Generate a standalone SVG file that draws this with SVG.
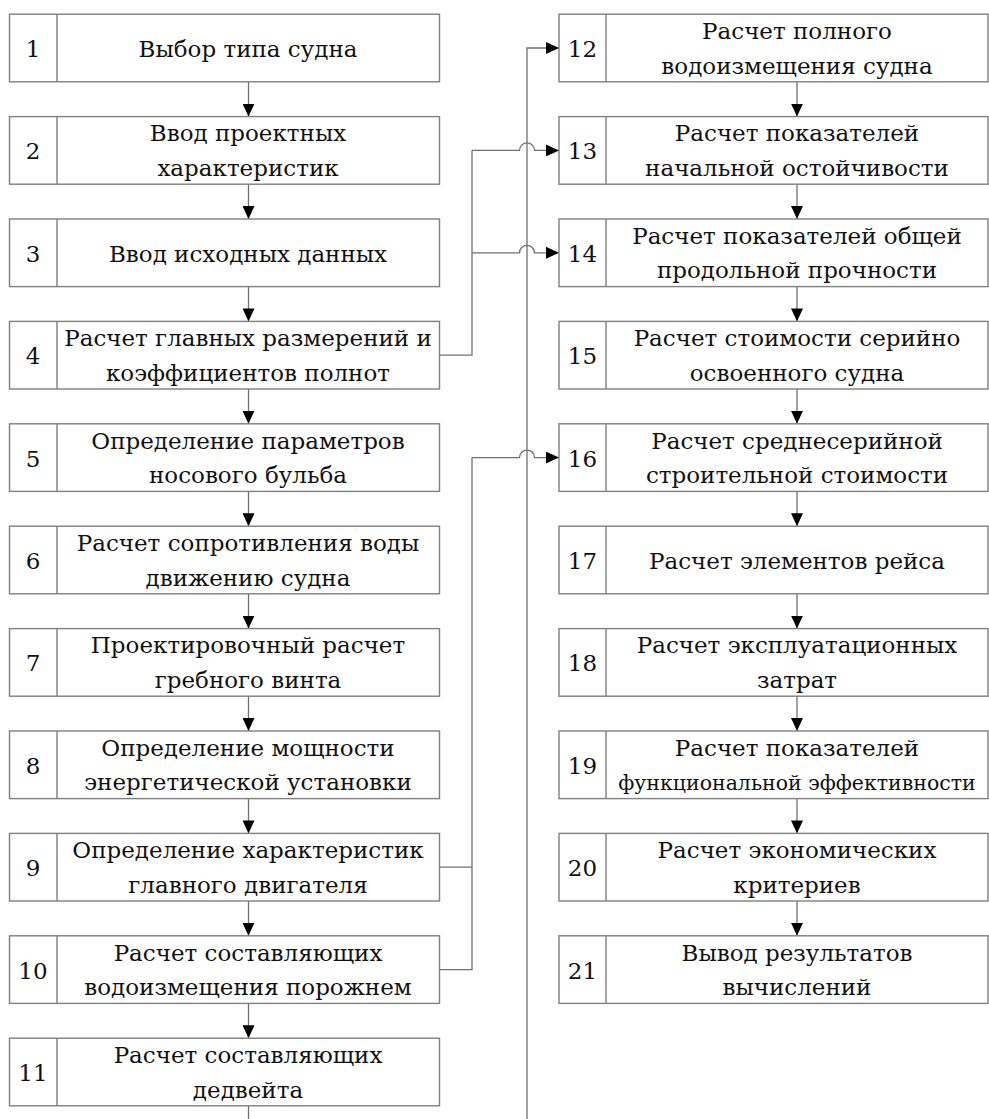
<svg xmlns="http://www.w3.org/2000/svg" width="989" height="1119" viewBox="0 0 989 1119">
<style>
.box{fill:#fff;stroke:#7f7f7f;stroke-width:1.4}
.div{stroke:#7f7f7f;stroke-width:1.4}
.c{fill:none;stroke:#707070;stroke-width:1.3}
.a{fill:none;stroke:#707070;stroke-width:1.3;marker-end:url(#ah)}
</style>
<defs>
<marker id="ah" viewBox="0 0 13 12" refX="13" refY="6" markerWidth="13" markerHeight="12" markerUnits="userSpaceOnUse" orient="auto">
<path d="M0,0 L13,6 L0,12 Z" fill="#000"/>
</marker>
</defs>
<g id="connectors">
<path class="a" d="M248.5,81.8 V116.6"/>
<path class="a" d="M248.5,184.2 V219"/>
<path class="a" d="M248.5,286.6 V321.4"/>
<path class="a" d="M248.5,389 V423.8"/>
<path class="a" d="M248.5,491.4 V526.2"/>
<path class="a" d="M248.5,593.8 V628.6"/>
<path class="a" d="M248.5,696.2 V731"/>
<path class="a" d="M248.5,798.6 V833.4"/>
<path class="a" d="M248.5,901 V935.8"/>
<path class="a" d="M248.5,1003.4 V1038.2"/>
<path class="c" d="M248.5,1105.8 V1119"/>
<path class="a" d="M797,81.8 V116.6"/>
<path class="a" d="M797,184.2 V219"/>
<path class="a" d="M797,286.6 V321.4"/>
<path class="a" d="M797,389 V423.8"/>
<path class="a" d="M797,491.4 V526.2"/>
<path class="a" d="M797,593.8 V628.6"/>
<path class="a" d="M797,696.2 V731"/>
<path class="a" d="M797,798.6 V833.4"/>
<path class="a" d="M797,901 V935.8"/>
<path class="a" d="M527,1119 V48 H559"/>
<path class="c" d="M439.5,355.2 H472 V150.4"/>
<path class="a" d="M472,150.4 H519.5 A7.5,7.5 0 0 1 534.5,150.4 H559"/>
<path class="a" d="M472,252.8 H519.5 A7.5,7.5 0 0 1 534.5,252.8 H559"/>
<path class="c" d="M439.5,867.2 H472"/>
<path class="c" d="M439.5,969.6 H472 V457.6"/>
<path class="a" d="M472,457.6 H519.5 A7.5,7.5 0 0 1 534.5,457.6 H559"/>
</g>
<g font-family="DejaVu Serif, serif" font-size="23" fill="#111" text-anchor="middle">
<g id="n1"><rect class="box" x="9.5" y="14.2" width="430" height="67.6"/><line class="div" x1="57" y1="14.2" x2="57" y2="81.8"/><text x="33" y="57">1</text><text x="248" y="57">Выбор типа судна</text></g>
<g id="n2"><rect class="box" x="9.5" y="116.6" width="430" height="67.6"/><line class="div" x1="57" y1="116.6" x2="57" y2="184.2"/><text x="33" y="159.4">2</text><text x="248" y="141.4">Ввод проектных</text><text x="248" y="175.9">характеристик</text></g>
<g id="n3"><rect class="box" x="9.5" y="219" width="430" height="67.6"/><line class="div" x1="57" y1="219" x2="57" y2="286.6"/><text x="33" y="261.8">3</text><text x="248" y="261.8">Ввод исходных данных</text></g>
<g id="n4"><rect class="box" x="9.5" y="321.4" width="430" height="67.6"/><line class="div" x1="57" y1="321.4" x2="57" y2="389"/><text x="33" y="364.2">4</text><text x="248" y="346.2">Расчет главных размерений и</text><text x="248" y="380.7">коэффициентов полнот</text></g>
<g id="n5"><rect class="box" x="9.5" y="423.8" width="430" height="67.6"/><line class="div" x1="57" y1="423.8" x2="57" y2="491.4"/><text x="33" y="466.6">5</text><text x="248" y="448.6">Определение параметров</text><text x="248" y="483.1">носового бульба</text></g>
<g id="n6"><rect class="box" x="9.5" y="526.2" width="430" height="67.6"/><line class="div" x1="57" y1="526.2" x2="57" y2="593.8"/><text x="33" y="569">6</text><text x="248" y="551">Расчет сопротивления воды</text><text x="248" y="585.5">движению судна</text></g>
<g id="n7"><rect class="box" x="9.5" y="628.6" width="430" height="67.6"/><line class="div" x1="57" y1="628.6" x2="57" y2="696.2"/><text x="33" y="671.4">7</text><text x="248" y="653.4">Проектировочный расчет</text><text x="248" y="687.9">гребного винта</text></g>
<g id="n8"><rect class="box" x="9.5" y="731" width="430" height="67.6"/><line class="div" x1="57" y1="731" x2="57" y2="798.6"/><text x="33" y="773.8">8</text><text x="248" y="755.8">Определение мощности</text><text x="248" y="790.3">энергетической установки</text></g>
<g id="n9"><rect class="box" x="9.5" y="833.4" width="430" height="67.6"/><line class="div" x1="57" y1="833.4" x2="57" y2="901"/><text x="33" y="876.2">9</text><text x="248" y="858.2">Определение характеристик</text><text x="248" y="892.7">главного двигателя</text></g>
<g id="n10"><rect class="box" x="9.5" y="935.8" width="430" height="67.6"/><line class="div" x1="57" y1="935.8" x2="57" y2="1003.4"/><text x="33" y="978.6">10</text><text x="248" y="960.6">Расчет составляющих</text><text x="248" y="995.1">водоизмещения порожнем</text></g>
<g id="n11"><rect class="box" x="9.5" y="1038.2" width="430" height="67.6"/><line class="div" x1="57" y1="1038.2" x2="57" y2="1105.8"/><text x="33" y="1081">11</text><text x="248" y="1063">Расчет составляющих</text><text x="248" y="1097.5">дедвейта</text></g>
<g id="n12"><rect class="box" x="559" y="14.2" width="429" height="67.6"/><line class="div" x1="606" y1="14.2" x2="606" y2="81.8"/><text x="582.5" y="57">12</text><text x="797" y="39">Расчет полного</text><text x="797" y="73.5">водоизмещения судна</text></g>
<g id="n13"><rect class="box" x="559" y="116.6" width="429" height="67.6"/><line class="div" x1="606" y1="116.6" x2="606" y2="184.2"/><text x="582.5" y="159.4">13</text><text x="797" y="141.4">Расчет показателей</text><text x="797" y="175.9">начальной остойчивости</text></g>
<g id="n14"><rect class="box" x="559" y="219" width="429" height="67.6"/><line class="div" x1="606" y1="219" x2="606" y2="286.6"/><text x="582.5" y="261.8">14</text><text x="797" y="243.8">Расчет показателей общей</text><text x="797" y="278.3">продольной прочности</text></g>
<g id="n15"><rect class="box" x="559" y="321.4" width="429" height="67.6"/><line class="div" x1="606" y1="321.4" x2="606" y2="389"/><text x="582.5" y="364.2">15</text><text x="797" y="346.2">Расчет стоимости серийно</text><text x="797" y="380.7">освоенного судна</text></g>
<g id="n16"><rect class="box" x="559" y="423.8" width="429" height="67.6"/><line class="div" x1="606" y1="423.8" x2="606" y2="491.4"/><text x="582.5" y="466.6">16</text><text x="797" y="448.6">Расчет среднесерийной</text><text x="797" y="483.1">строительной стоимости</text></g>
<g id="n17"><rect class="box" x="559" y="526.2" width="429" height="67.6"/><line class="div" x1="606" y1="526.2" x2="606" y2="593.8"/><text x="582.5" y="569">17</text><text x="797" y="569">Расчет элементов рейса</text></g>
<g id="n18"><rect class="box" x="559" y="628.6" width="429" height="67.6"/><line class="div" x1="606" y1="628.6" x2="606" y2="696.2"/><text x="582.5" y="671.4">18</text><text x="797" y="653.4">Расчет эксплуатационных</text><text x="797" y="687.9">затрат</text></g>
<g id="n19"><rect class="box" x="559" y="731" width="429" height="67.6"/><line class="div" x1="606" y1="731" x2="606" y2="798.6"/><text x="582.5" y="773.8">19</text><text x="797" y="755.8">Расчет показателей</text><text x="797" y="790.3" font-size="20.5">функциональной эффективности</text></g>
<g id="n20"><rect class="box" x="559" y="833.4" width="429" height="67.6"/><line class="div" x1="606" y1="833.4" x2="606" y2="901"/><text x="582.5" y="876.2">20</text><text x="797" y="858.2">Расчет экономических</text><text x="797" y="892.7">критериев</text></g>
<g id="n21"><rect class="box" x="559" y="935.8" width="429" height="67.6"/><line class="div" x1="606" y1="935.8" x2="606" y2="1003.4"/><text x="582.5" y="978.6">21</text><text x="797" y="960.6">Вывод результатов</text><text x="797" y="995.1">вычислений</text></g>
</g>
</svg>
